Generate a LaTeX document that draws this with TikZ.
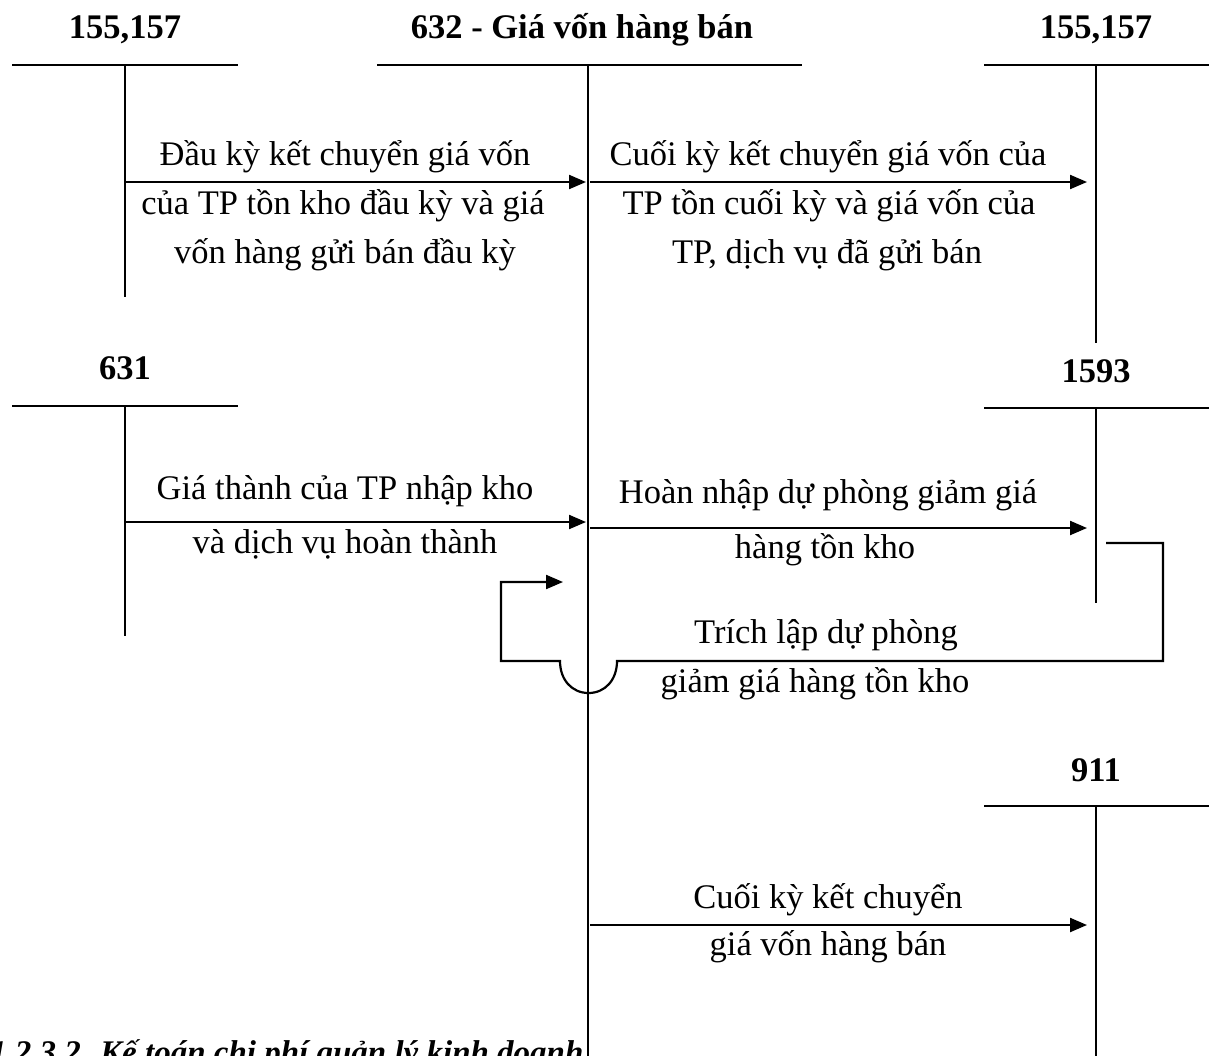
\documentclass[tikz,border=0pt]{standalone}
\usepackage{fontspec}
\setmainfont{Liberation Serif}
\usetikzlibrary{arrows.meta}
\begin{document}
\begin{tikzpicture}[x=1pt,y=-1pt,
  tline/.style={line width=2.2pt},
  hline/.style={line width=2.6pt},
  flow/.style={line width=2.2pt,-{Triangle[length=17pt,width=14pt]}},
  lbl/.style={anchor=base,inner sep=0pt,font=\fontsize{34.5}{40}\selectfont},
  head/.style={anchor=base,inner sep=0pt,font=\fontsize{34.5}{40}\selectfont\bfseries}]
\useasboundingbox[fill=white] (0,0) rectangle (1209,1055);

% ---- T accounts ----
% 155,157 (left)
\node[head] (hA) at (125,38) {155,157};
\coordinate (A1) at (12,65); \coordinate (A2) at (238,65);
\coordinate (At) at (125,65); \coordinate (Ab) at (125,297);
\draw[hline] (A1) -- (A2); \draw[tline] (At) -- (Ab);
% 632
\node[head] (hM) at (582,38) {632 - Giá vốn hàng bán};
\coordinate (M1) at (377,65); \coordinate (M2) at (802,65);
\coordinate (Mt) at (588,65); \coordinate (Mb) at (588,1070);
\draw[hline] (M1) -- (M2); \draw[tline] (Mt) -- (Mb);
% 155,157 (right)
\node[head] (hB) at (1096,38) {155,157};
\coordinate (B1) at (984,65); \coordinate (B2) at (1212,65);
\coordinate (Bt) at (1096,65); \coordinate (Bb) at (1096,343);
\draw[hline] (B1) -- (B2); \draw[tline] (Bt) -- (Bb);
% 631
\node[head] (hC) at (125,379) {631};
\coordinate (C1) at (12,406); \coordinate (C2) at (238,406);
\coordinate (Ct) at (125,406); \coordinate (Cb) at (125,636);
\draw[hline] (C1) -- (C2); \draw[tline] (Ct) -- (Cb);
% 1593
\node[head] (hD) at (1096,382) {1593};
\coordinate (D1) at (984,408); \coordinate (D2) at (1212,408);
\coordinate (Dt) at (1096,408); \coordinate (Db) at (1096,603);
\draw[hline] (D1) -- (D2); \draw[tline] (Dt) -- (Db);
% 911
\node[head] (hE) at (1096,781) {911};
\coordinate (E1) at (984,806); \coordinate (E2) at (1212,806);
\coordinate (Et) at (1096,806); \coordinate (Eb) at (1096,1070);
\draw[hline] (E1) -- (E2); \draw[tline] (Et) -- (Eb);

% ---- flows ----
% 1: 155,157 -> 632
\coordinate (f1s) at (125,182); \coordinate (f1e) at (586,182);
\draw[flow] (f1s) -- (f1e);
\node[lbl] (t1a) at (345,165) {Đầu kỳ kết chuyển giá vốn};
\node[lbl] (t1b) at (343,214) {của TP tồn kho đầu kỳ và giá};
\node[lbl] (t1c) at (345,263) {vốn hàng gửi bán đầu kỳ};
% 2: 632 -> 155,157
\coordinate (f2s) at (590,182); \coordinate (f2e) at (1087,182);
\draw[flow] (f2s) -- (f2e);
\node[lbl] (t2a) at (828,165) {Cuối kỳ kết chuyển giá vốn của};
\node[lbl] (t2b) at (829,214) {TP tồn cuối kỳ và giá vốn của};
\node[lbl] (t2c) at (827,263) {TP, dịch vụ đã gửi bán};
% 3: 631 -> 632
\coordinate (f3s) at (125,522); \coordinate (f3e) at (586,522);
\draw[flow] (f3s) -- (f3e);
\node[lbl] (t3a) at (345,499) {Giá thành của TP nhập kho};
\node[lbl] (t3b) at (345,553) {và dịch vụ hoàn thành};
% 4: 632 -> 1593
\coordinate (f4s) at (590,528); \coordinate (f4e) at (1087,528);
\draw[flow] (f4s) -- (f4e);
\node[lbl] (t4a) at (828,503) {Hoàn nhập dự phòng giảm giá};
\node[lbl] (t4b) at (825,558) {hàng tồn kho};
% 5: 1593 -> 632 (loop)
\coordinate (f5s) at (1106,543); \coordinate (f5a) at (1163,543);
\coordinate (f5b) at (1163,661); \coordinate (f5c) at (617,661);
\coordinate (f5d) at (560,661); \coordinate (f5f) at (501,661);
\coordinate (f5g) at (501,582); \coordinate (f5e) at (563,582);
\draw[flow] (f5s) -- (f5a) -- (f5b) -- (f5c)
  .. controls (617,680) and (605,693) .. (588.5,693)
  .. controls (572,693) and (560,680) .. (f5d)
  -- (f5f) -- (f5g) -- (f5e);
\node[lbl] (t5a) at (826,643) {Trích lập dự phòng};
\node[lbl] (t5b) at (815,692) {giảm giá hàng tồn kho};
% 6: 632 -> 911
\coordinate (f6s) at (590,925); \coordinate (f6e) at (1087,925);
\draw[flow] (f6s) -- (f6e);
\node[lbl] (t6a) at (828,908) {Cuối kỳ kết chuyển};
\node[lbl] (t6b) at (828,955) {giá vốn hàng bán};

% ---- cut-off caption ----
\node[anchor=base west,inner sep=0pt,font=\fontsize{33}{40}\selectfont\bfseries\itshape] (cap) at (-10,1063) {1.2.3.2. Kế toán chi phí quản lý kinh doanh};
\end{tikzpicture}
\end{document}
